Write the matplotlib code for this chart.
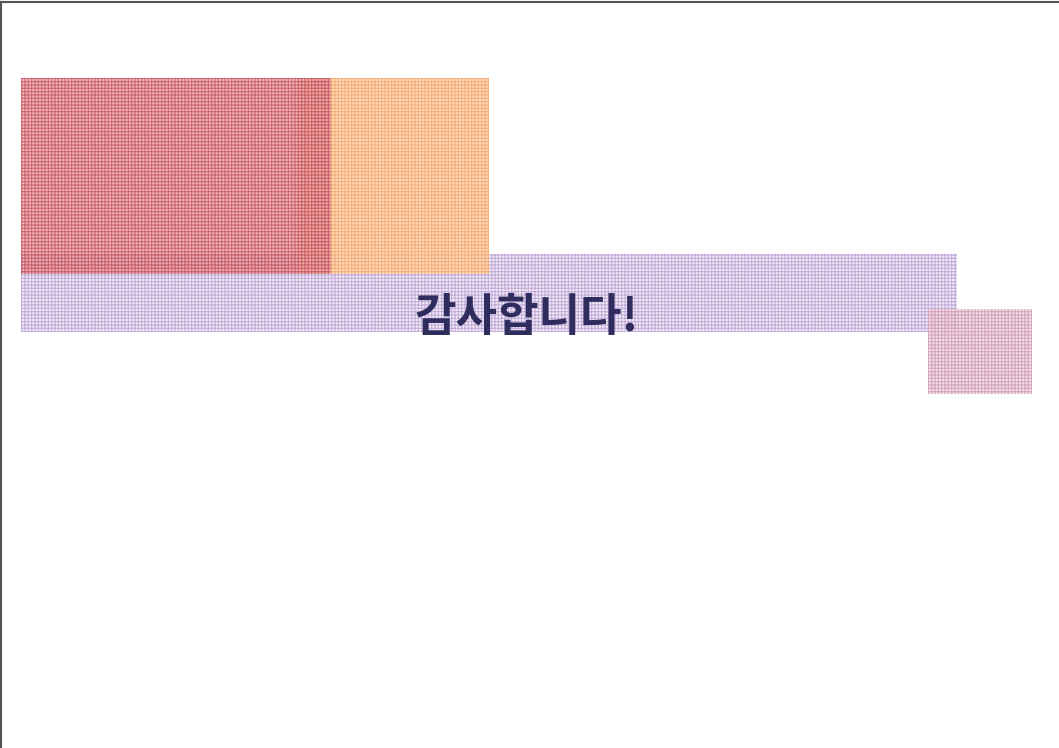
import matplotlib.pyplot as plt
from matplotlib.patches import Rectangle
import matplotlib as mpl

mpl.rcParams['hatch.linewidth'] = 0.8

# slide blocks (pixel space of the 1059x748 slide): name, x, y, w, h
names = ['purple', 'orange', 'red', 'pink']
xs = [21, 298, 21, 928]
ys = [254, 78, 78, 309]
ws = [936, 191, 310, 104]
hs = [78, 196, 196, 85]
faces = ['#f1edf6', '#fcdac0', '#e6a0a4', '#f3dae2']
lines = ['#bfa6d8', '#f7ad74', '#c44a56', '#cd98b0']
alphas = [0.9, 0.95, 0.75, 0.8]

title = '감사합니다!'

fig = plt.figure(figsize=(10.59, 7.48), dpi=100)
ax = fig.add_axes([0, 0, 1, 1])
ax.set_xlim(0, 1059)
ax.set_ylim(748, 0)
ax.axis('off')

# frame (only top and left edges show)
ax.plot([1, 1059], [2, 2], color='#555555', lw=1.5)
ax.plot([1, 1], [2, 748], color='#555555', lw=1.5)

for i in range(len(names)):
    r = Rectangle((xs[i], ys[i]), ws[i], hs[i], facecolor=faces[i],
                  edgecolor=lines[i], hatch='+++++', lw=0, alpha=alphas[i])
    ax.add_patch(r)

ax.text(527, 318, title, ha='center', va='center', fontsize=32.5,
        fontweight='bold', color='#2f2c5e',
        family=['Noto Sans CJK KR', 'DejaVu Sans'])

fig.savefig('out.png', dpi=100)
